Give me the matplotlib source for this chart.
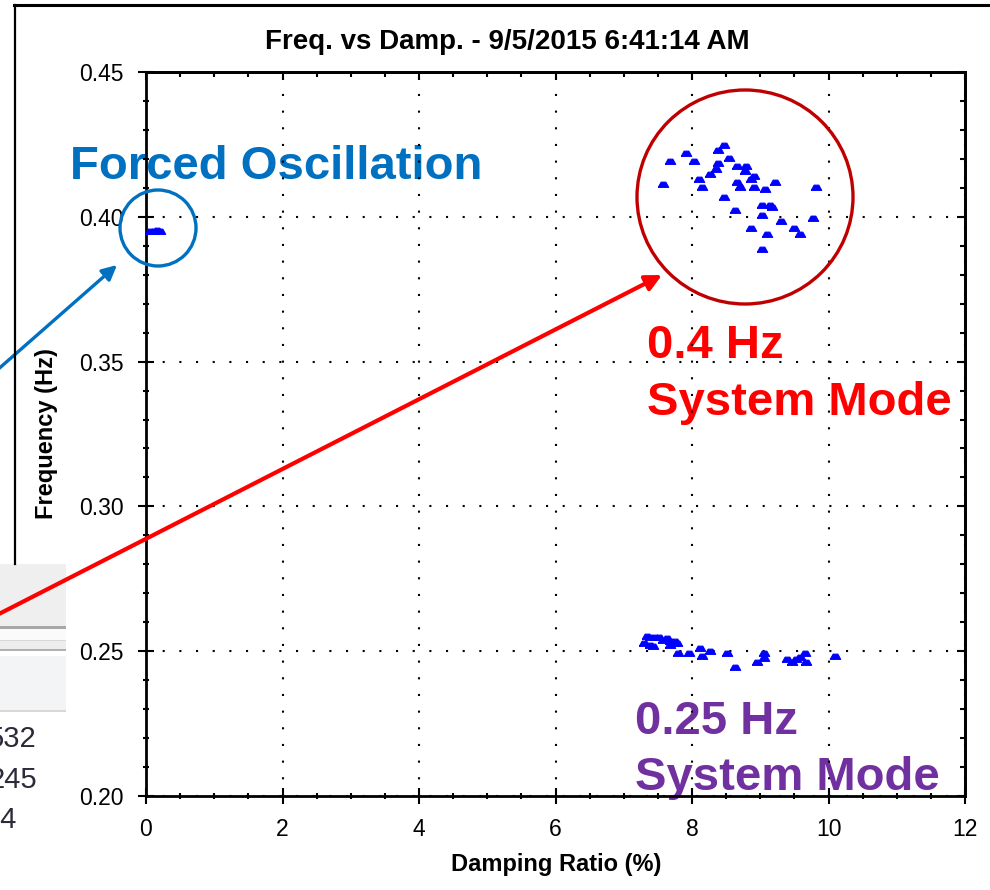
import matplotlib
matplotlib.use("Agg")
import matplotlib.pyplot as plt
from matplotlib.patches import Ellipse, FancyArrowPatch, Rectangle
from matplotlib.lines import Line2D
from matplotlib.ticker import MultipleLocator, FormatStrFormatter

plt.rcParams['font.family'] = ['Liberation Sans', 'DejaVu Sans']

# Mode estimates: damping ratio (%) and frequency (Hz)
forced_damp = [0.06, 0.11, 0.16, 0.20]
forced_freq = [0.3952, 0.3950, 0.3953, 0.3951]

mode04_damp = [8.47, 8.38, 7.91, 7.68, 8.03, 8.54, 8.38, 8.66, 8.79, 8.35,
               8.78, 8.26, 8.91, 8.10, 8.86, 8.66, 9.22, 7.58, 8.15, 8.70,
               8.91, 9.07, 9.82, 8.47, 9.03, 9.14, 9.17, 8.63, 9.03, 9.30,
               9.77, 8.86, 9.10, 9.50, 9.58, 9.03]
mode04_freq = [0.4248, 0.4231, 0.4220, 0.4193, 0.4193, 0.4203, 0.4186, 0.4175,
               0.4175, 0.4165, 0.4158, 0.4148, 0.4141, 0.4131, 0.4131, 0.4120,
               0.4120, 0.4113, 0.4103, 0.4103, 0.4103, 0.4096, 0.4103, 0.4068,
               0.4041, 0.4041, 0.4034, 0.4023, 0.4006, 0.3985, 0.3996, 0.3961,
               0.3941, 0.3961, 0.3941, 0.3889]

mode025_damp = [7.34, 7.39, 7.46, 7.51, 7.58, 7.63, 7.68, 7.75, 7.29, 7.39,
                7.43, 7.68, 7.73, 7.78, 7.80, 7.95, 8.11, 8.14, 8.26, 8.51,
                8.63, 8.95, 9.05, 9.05, 9.39, 9.46, 9.53, 9.58, 9.66, 9.67,
                10.10]
mode025_freq = [0.2554, 0.2550, 0.2548, 0.2548, 0.2539, 0.2545, 0.2536, 0.2536,
                0.2529, 0.2521, 0.2519, 0.2521, 0.2527, 0.2529, 0.2493, 0.2493,
                0.2510, 0.2483, 0.2501, 0.2493, 0.2447, 0.2464, 0.2495, 0.2476,
                0.2472, 0.2464, 0.2472, 0.2481, 0.2493, 0.2464, 0.2483]

x_ticks = [0, 2, 4, 6, 8, 10, 12]
y_ticks = [0.20, 0.25, 0.30, 0.35, 0.40, 0.45]

W, H = 990, 890


def fx(x):
    return x / W


def fy(y):
    return 1 - y / H


fig = plt.figure(figsize=(9.9, 8.9), dpi=100)
ax = fig.add_axes([fx(146), fy(796), (965 - 146) / W, (796 - 72) / H])

# small flat "house" shaped marker
blip = [(-1, -0.55), (-0.45, 0.45), (0.45, 0.45), (1, -0.55), (-1, -0.55)]
for d, f in [(forced_damp, forced_freq), (mode04_damp, mode04_freq),
             (mode025_damp, mode025_freq)]:
    ax.plot(d, f, ls='none', marker=blip, color='#0000FF', mec='#0000FF',
            mew=0.8, ms=7.5, zorder=3)

ax.set_xlim(x_ticks[0], x_ticks[-1])
ax.set_ylim(y_ticks[0], y_ticks[-1])
ax.set_xticks(x_ticks)
ax.set_yticks(y_ticks)
ax.xaxis.set_minor_locator(MultipleLocator(0.5))
ax.yaxis.set_minor_locator(MultipleLocator(0.01))
ax.yaxis.set_major_formatter(FormatStrFormatter('%.2f'))
ax.tick_params(which='major', direction='inout', length=11.5, width=1.5,
               labelsize=16.5, pad=10)
ax.tick_params(which='minor', direction='inout', length=5, width=1.5)
ax.grid(True, which='major', color='black', linestyle=(0, (1, 7)), linewidth=1.5)
for s in ax.spines.values():
    s.set_linewidth(2)

# inward ticks on the top and right edges
top = ax.secondary_xaxis('top')
top.set_xticks(x_ticks)
top.xaxis.set_minor_locator(MultipleLocator(0.5))
top.tick_params(which='major', direction='in', length=5.5, width=1.5, labeltop=False)
top.tick_params(which='minor', direction='in', length=3.5, width=1.5)
top.spines['top'].set_linewidth(2)
right = ax.secondary_yaxis('right')
right.set_yticks(y_ticks)
right.yaxis.set_minor_locator(MultipleLocator(0.01))
right.tick_params(which='major', direction='in', length=5.5, width=1.5, labelright=False)
right.tick_params(which='minor', direction='in', length=3.5, width=1.5)
right.spines['right'].set_linewidth(2)

fig.text(fx(507), fy(49), 'Freq. vs Damp. - 9/5/2015 6:41:14 AM', ha='center',
         va='baseline', fontsize=20, fontweight='bold')
fig.text(fx(556), fy(871), 'Damping Ratio (%)', ha='center', va='baseline',
         fontsize=17, fontweight='bold')
fig.text(fx(47), fy(434), 'Frequency (Hz)', ha='center', va='center',
         rotation=90, fontsize=17, fontweight='bold')

# outer window frame and the table panel on the left
fig.add_artist(Line2D([fx(14), fx(995)], [fy(5), fy(5)], color='black', lw=2.2))
fig.add_artist(Line2D([fx(15), fx(15)], [fy(5), fy(564)], color='black', lw=1.6))
panel = [(564, 626, '#EFEFEF'), (626, 629, '#A8A8A8'), (629, 640, '#FAFAFA'),
         (640, 641, '#D8D8D8'), (641, 649, '#EDEDED'), (649, 651, '#B0B0B0'),
         (651, 656, '#FFFFFF'), (656, 710, '#F3F4F6'), (710, 712, '#D8D8D8')]
for y0, y1, c in panel:
    fig.add_artist(Rectangle((0, fy(y1)), fx(66), (y1 - y0) / H,
                             transform=fig.transFigure, color=c, lw=0))
for txt, xr, yb in [('532', 37, 747), ('245', 37, 788), ('24', 17, 828)]:
    fig.text(fx(xr), fy(yb), txt, ha='right', va='baseline', fontsize=21,
             color='#2b2b3a')

# callouts
def label(x, y, s, color):
    ax.text(fx(x), fy(y), s, transform=fig.transFigure, ha='left', va='baseline',
            fontsize=34, fontweight='bold', color=color, zorder=1, clip_on=False)


label(70, 179, 'Forced Oscillation', '#0070C0')
label(647, 358, '0.4 Hz', '#FF0000')
label(647, 415, 'System Mode', '#FF0000')
label(635, 734, '0.25 Hz', '#7030A0')
label(635, 790, 'System Mode', '#7030A0')

fig.add_artist(Ellipse((fx(158), fy(228)), 76 / W, 76 / H, transform=fig.transFigure,
                       fill=False, ec='#0070C0', lw=2.4))
fig.add_artist(Ellipse((fx(745), fy(197)), 216 / W, 214 / H, transform=fig.transFigure,
                       fill=False, ec='#C00000', lw=2.4))
fig.add_artist(FancyArrowPatch((fx(-5), fy(372)), (fx(117), fy(265)),
                               transform=fig.transFigure, arrowstyle='-|>',
                               mutation_scale=22, color='#0070C0', lw=2.4,
                               shrinkA=0, shrinkB=0))
fig.add_artist(FancyArrowPatch((fx(-5), fy(616)), (fx(662), fy(275)),
                               transform=fig.transFigure, arrowstyle='-|>',
                               mutation_scale=24, color='#FF0000', lw=3,
                               shrinkA=0, shrinkB=0))

fig.savefig('out.png', dpi=100)
